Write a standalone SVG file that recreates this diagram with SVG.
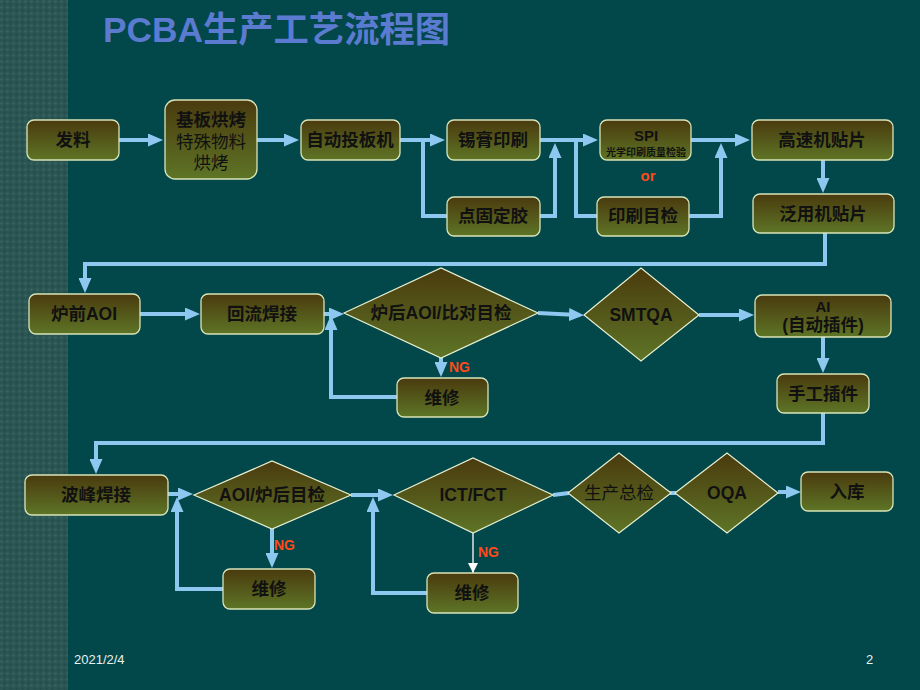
<svg xmlns="http://www.w3.org/2000/svg" width="920" height="690" viewBox="0 0 920 690">
<defs>
<linearGradient id="g" x1="0" y1="0" x2="0" y2="1">
<stop offset="0" stop-color="#4a3a0e"/>
<stop offset="1" stop-color="#5e7526"/>
</linearGradient>
<pattern id="tex" width="6" height="6" patternUnits="userSpaceOnUse">
<rect width="6" height="6" fill="#2a5553"/>
<circle cx="1.5" cy="1.5" r="1.1" fill="#3a6866"/>
<circle cx="4.5" cy="4.5" r="1.1" fill="#1f4a48"/>
</pattern>
<marker id="ah" markerUnits="userSpaceOnUse" markerWidth="15" markerHeight="13" viewBox="0 0 15 13" refX="9" refY="6.5" orient="auto">
<path d="M0,0 L15,6.5 L0,13 z" fill="#8ec8f0"/>
</marker>
<marker id="aw" markerUnits="userSpaceOnUse" markerWidth="10" markerHeight="10" viewBox="0 0 10 10" refX="10" refY="5" orient="auto">
<path d="M0,0 L10,5 L0,10 z" fill="#ffffff"/>
</marker>
</defs>
<style>
.box{fill:url(#g);stroke:#d9e4b8;stroke-width:1.3}
.dia{fill:url(#g);stroke:#e8f0d0;stroke-width:1.2}
.t{font-family:"Liberation Sans","Noto Sans CJK SC",sans-serif;font-weight:bold;font-size:17.5px;fill:#111;text-anchor:middle}
.n{font-weight:normal}
.c{fill:none;stroke:#8ec8f0;stroke-width:4;marker-end:url(#ah)}
.cn{fill:none;stroke:#8ec8f0;stroke-width:4}
.ng{font-family:"Liberation Sans",sans-serif;font-weight:bold;font-size:14px;fill:#ff4a1a}
</style>
<rect width="920" height="690" fill="#02474a"/>
<rect width="68" height="690" fill="url(#tex)"/>
<text x="103" y="42" font-family="Liberation Sans,'Noto Sans CJK SC',sans-serif" font-weight="bold" font-size="35" fill="#5b7bd0" textLength="347" lengthAdjust="spacingAndGlyphs">PCBA生产工艺流程图</text>

<g id="connectors">
<path class="c" d="M119,140 H157"/>
<path class="c" d="M257,140 H293"/>
<path class="c" d="M400,140 H439"/>
<path class="cn" d="M423,140 V216 H447"/>
<path class="c" d="M540,216 H555 V149"/>
<path class="c" d="M540,140 H592"/>
<path class="cn" d="M576,140 V216 H597"/>
<path class="c" d="M691,140 H744"/>
<path class="c" d="M689,216 H721 V149"/>
<path class="c" d="M823,160 V187"/>
<path class="c" d="M825,233 V264 H85 V287"/>
<path class="c" d="M140,314 H194"/>
<path class="c" d="M324,314 H338"/>
<path class="c" d="M441,358 V371"/>
<path class="c" d="M397,397 H331 V321"/>
<path class="c" d="M538,313 L578,315"/>
<path class="c" d="M699,315 H748"/>
<path class="c" d="M823,337 V367"/>
<path class="c" d="M823,413 V443 H96 V468"/>
<path class="c" d="M168,494 H187"/>
<path class="c" d="M272,529 V562"/>
<path class="c" d="M223,589 H177 V503"/>
<path class="c" d="M351,495 H387"/>
<path class="c" d="M427,593 H373 V503"/>
<path d="M473,533 V573" stroke="#ffffff" stroke-width="1.3" fill="none" marker-end="url(#aw)"/>
<path class="cn" d="M553,495 L569,493"/>
<path class="cn" d="M670,493 L676,493"/>
<path class="c" d="M778,492 H795"/>
</g>

<g id="n1"><rect class="box" x="27" y="120" width="92" height="40" rx="7"/><text class="t" x="73" y="146">发料</text></g>
<g id="n2"><rect class="box" x="165" y="100" width="92" height="79" rx="10"/><text class="t" x="211" y="126">基板烘烤</text><text class="t n" x="211" y="148">特殊物料</text><text class="t n" x="211" y="169">烘烤</text></g>
<g id="n3"><rect class="box" x="301" y="120" width="99" height="40" rx="7"/><text class="t" x="350" y="146">自动投板机</text></g>
<g id="n4"><rect class="box" x="447" y="120" width="93" height="40" rx="7"/><text class="t" x="493" y="146">锡膏印刷</text></g>
<g id="n5"><rect class="box" x="447" y="197" width="93" height="39" rx="7"/><text class="t" x="493" y="222">点固定胶</text></g>
<g id="n6"><rect class="box" x="600" y="120" width="91" height="40" rx="7"/><text class="t" x="646" y="141" style="font-size:15px">SPI</text><text class="t" x="646" y="156" style="font-size:10px">光学印刷质量检验</text></g>
<text x="648" y="181" font-family="Liberation Sans,sans-serif" font-weight="bold" font-size="15" fill="#ff4a1a" text-anchor="middle">or</text>
<g id="n7"><rect class="box" x="597" y="197" width="92" height="39" rx="7"/><text class="t" x="643" y="222">印刷目检</text></g>
<g id="n8"><rect class="box" x="752" y="120" width="141" height="40" rx="7"/><text class="t" x="822" y="146">高速机贴片</text></g>
<g id="n9"><rect class="box" x="753" y="194" width="141" height="39" rx="7"/><text class="t" x="823" y="220">泛用机贴片</text></g>

<g id="n10"><rect class="box" x="29" y="294" width="111" height="40" rx="7"/><text class="t" x="84" y="320">炉前AOI</text></g>
<g id="n11"><rect class="box" x="201" y="294" width="123" height="40" rx="7"/><text class="t" x="262" y="320">回流焊接</text></g>
<g id="n12"><polygon class="dia" points="344,313 441,268 538,313 441,358"/><text class="t" x="441" y="319">炉后AOI/比对目检</text></g>
<text class="ng" x="449" y="372">NG</text>
<g id="n13"><rect class="box" x="397" y="378" width="91" height="39" rx="7"/><text class="t" x="442" y="404">维修</text></g>
<g id="n14"><polygon class="dia" points="584,315 641,268 699,315 641,361"/><text class="t" x="641" y="321">SMTQA</text></g>
<g id="n15"><rect class="box" x="755" y="295" width="136" height="42" rx="7"/><text class="t" x="823" y="312" style="font-size:15px">AI</text><text class="t" x="823" y="331">(自动插件)</text></g>
<g id="n16"><rect class="box" x="777" y="374" width="92" height="39" rx="7"/><text class="t" x="823" y="400">手工插件</text></g>

<g id="n17"><rect class="box" x="25" y="475" width="143" height="40" rx="7"/><text class="t" x="96" y="501">波峰焊接</text></g>
<g id="n18"><polygon class="dia" points="194,495 272,461 351,495 272,529"/><text class="t" x="272" y="501">AOI/炉后目检</text></g>
<text class="ng" x="274" y="550">NG</text>
<g id="n19"><rect class="box" x="223" y="569" width="92" height="40" rx="7"/><text class="t" x="269" y="595">维修</text></g>
<g id="n20"><polygon class="dia" points="394,495 473,458 553,495 473,533"/><text class="t" x="473" y="501">ICT/FCT</text></g>
<text class="ng" x="478" y="557">NG</text>
<g id="n21"><rect class="box" x="427" y="573" width="91" height="40" rx="7"/><text class="t" x="472" y="599">维修</text></g>
<g id="n22"><polygon class="dia" points="568,493 619,453 671,493 619,533"/><text class="t n" x="619" y="499">生产总检</text></g>
<g id="n23"><polygon class="dia" points="675,493 727,453 778,493 727,533"/><text class="t" x="727" y="499">OQA</text></g>
<g id="n24"><rect class="box" x="801" y="472" width="92" height="39" rx="7"/><text class="t" x="847" y="498">入库</text></g>

<text x="74" y="664" font-family="Liberation Sans,sans-serif" font-size="13" fill="#e6f2f2">2021/2/4</text>
<text x="866" y="664" font-family="Liberation Sans,sans-serif" font-size="13" fill="#e6f2f2">2</text>
</svg>
